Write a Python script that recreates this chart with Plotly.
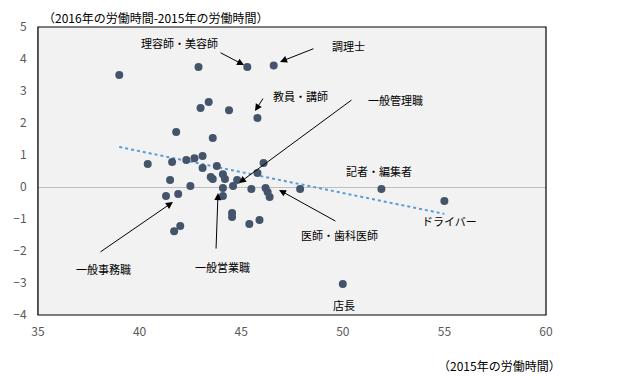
import plotly.graph_objects as go

x_2015 = [39.0, 42.9, 45.3, 46.6, 43.0, 43.4, 44.4, 45.8, 41.8, 43.6,
          40.4, 41.6, 42.3, 42.7, 43.1, 43.1, 43.8, 43.5, 43.6, 44.1,
          44.2, 41.5, 42.5, 44.1, 44.1, 41.9, 41.3, 42.0, 41.7, 44.6,
          44.8, 46.1, 45.8, 45.5, 46.2, 46.3, 46.4, 47.9, 51.9, 55.0,
          44.55, 44.55, 45.4, 45.9, 50.0]
y_diff = [3.5, 3.75, 3.75, 3.8, 2.47, 2.66, 2.4, 2.16, 1.72, 1.53,
          0.72, 0.78, 0.84, 0.9, 0.97, 0.59, 0.66, 0.31, 0.25, 0.4,
          0.25, 0.22, 0.03, -0.03, -0.28, -0.22, -0.28, -1.22, -1.38, 0.03,
          0.22, 0.75, 0.44, -0.06, -0.03, -0.16, -0.31, -0.06, -0.06, -0.44,
          -0.81, -0.94, -1.16, -1.03, -3.03]

trend_x = [39.0, 55.0]
trend_y = [1.25, -0.84]

labels = ["理容師・美容師", "調理士", "教員・講師", "一般管理職", "記者・編集者",
          "ドライバー", "医師・歯科医師", "店長", "一般営業職", "一般事務職"]
label_x = [41.94, 50.26, 47.94, 52.57, 51.78, 55.23, 49.86, 50.06, 44.1, 38.2]
label_y = [4.5, 4.41, 2.84, 2.72, 0.5, -1.06, -1.5, -3.69, -2.5, -2.56]

# arrows: tail -> tip (None when no arrow)
arrow_tail_x = [43.91, 48.63, 46.12, 50.5, None, None, 49.71, None, 43.76, 38.0]
arrow_tail_y = [4.22, 4.34, 2.81, 2.75, None, None, -1.09, None, -1.97, -2.06]
arrow_tip_x = [45.14, 46.91, 45.68, 44.89, None, None, 46.86, None, 43.86, 41.64]
arrow_tip_y = [3.81, 3.91, 2.375, 0.125, None, None, -0.09, None, -0.19, -0.47]

FONT = "Noto Sans CJK JP"

fig = go.Figure()
fig.add_trace(go.Scatter(x=trend_x, y=trend_y, mode="lines",
                         line=dict(color="#5B9BD5", width=2, dash="dot"),
                         hoverinfo="skip", showlegend=False))
fig.add_trace(go.Scatter(x=x_2015, y=y_diff, mode="markers",
                         marker=dict(color="#44546A", size=8),
                         showlegend=False))

annotations = []
for i, t in enumerate(labels):
    annotations.append(dict(x=label_x[i], y=label_y[i], xref="x", yref="y",
                            text=t, showarrow=False,
                            font=dict(family=FONT, size=11, color="#000000")))
    if arrow_tail_x[i] is not None:
        annotations.append(dict(x=arrow_tip_x[i], y=arrow_tip_y[i], xref="x", yref="y",
                                ax=arrow_tail_x[i], ay=arrow_tail_y[i],
                                axref="x", ayref="y", text="", showarrow=True,
                                arrowhead=2, arrowsize=1.4, arrowwidth=1,
                                arrowcolor="#000000"))

annotations.append(dict(xref="paper", yref="paper", x=0.006, y=1.0, yshift=10,
                        xanchor="left", yanchor="middle",
                        text="（2016年の労働時間-2015年の労働時間）", showarrow=False,
                        font=dict(family=FONT, size=12, color="#000000")))
annotations.append(dict(xref="paper", yref="paper", x=1.033, y=0, yshift=-50,
                        xanchor="right", yanchor="middle",
                        text="（2015年の労働時間）", showarrow=False,
                        font=dict(family=FONT, size=12, color="#000000")))

fig.update_layout(
    width=632, height=368,
    margin=dict(l=30, r=94, t=19, b=61),
    paper_bgcolor="white", plot_bgcolor="#F2F2F2",
    font=dict(family=FONT, size=12, color="#595959"),
    annotations=annotations,
    shapes=[dict(type="rect", xref="paper", yref="paper", x0=0, y0=0, x1=1, y1=1,
                 line=dict(color="#000000", width=1.2), layer="above")],
    xaxis=dict(range=[35, 60], tickvals=[35, 40, 45, 50, 55, 60], showgrid=False,
               zeroline=False, showline=False, ticks="", automargin=False,
               ticklabelstandoff=8,
               tickfont=dict(size=12, color="#595959")),
    yaxis=dict(range=[-4, 5], tickvals=list(range(-4, 6)), showgrid=False,
               zeroline=True, zerolinecolor="#BFBFBF", zerolinewidth=1,
               showline=True, linecolor="#BFBFBF", linewidth=1, ticks="",
               automargin=False, ticklabelstandoff=8,
               tickfont=dict(size=12, color="#595959")),
)

fig.write_html("out.html")
